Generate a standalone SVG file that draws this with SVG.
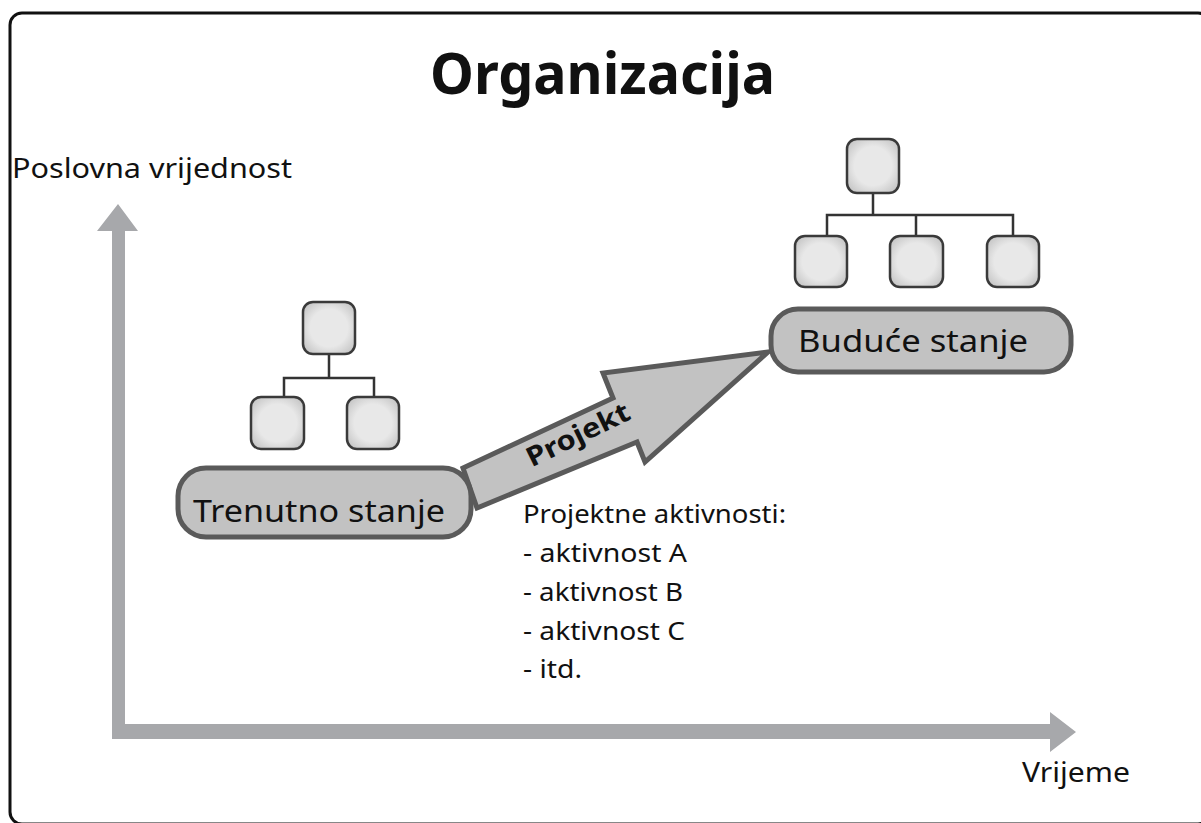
<svg xmlns="http://www.w3.org/2000/svg" width="1201" height="823" viewBox="0 0 1201 823">
<defs>
<style>
.t{font-family:"Noto Sans","Open Sans","DejaVu Sans",sans-serif;fill:#111}
.ob{fill:url(#bg);stroke:#3a3a3a;stroke-width:2.5}
.ln{stroke:#333;stroke-width:2.5;fill:none}
.st{fill:#c2c2c2;stroke:#5a5a5a;stroke-width:5}
.ax{fill:#a7a8ab}
</style>
<radialGradient id="bg" cx="50%" cy="50%" r="60%">
<stop offset="0.6" stop-color="#e8e8e8"/>
<stop offset="1" stop-color="#c8c8c8"/>
</radialGradient>
</defs>
<rect x="0" y="0" width="1201" height="823" fill="#fff"/>
<rect x="10" y="13" width="1200" height="811" rx="12" fill="none" stroke="#111" stroke-width="3"/>
<text class="t" x="430" y="94" font-size="58" font-weight="bold" textLength="345" lengthAdjust="spacingAndGlyphs">Organizacija</text>
<g id="axes">
<path class="ax" d="M112,739 L112,231 L97,231 L118,204 L138,231 L125,231 L125,724 L1050,724 L1050,712 L1076,732 L1050,752 L1050,739 Z"/>
<text class="t" x="12" y="178" font-size="27" textLength="280" lengthAdjust="spacingAndGlyphs">Poslovna vrijednost</text>
<text class="t" x="1022" y="782" font-size="27" textLength="108" lengthAdjust="spacingAndGlyphs">Vrijeme</text>
</g>
<g id="connectors">
<g id="org-left-lines">
<path class="ln" d="M329,354 V378 M284,397 V378 H374 V397"/>
</g>
<g id="org-right-lines">
<path class="ln" d="M873,193 V215 M827,236 V215 H1013 V236 M916,215 V236"/>
</g>
<g id="projekt">
<path class="st" stroke-linejoin="miter" d="M463,468 L613,398 L603,373 L768,352 L645,462 L637,442 L477,508 Z"/>
<text transform="translate(582,443) rotate(-26)" class="t" text-anchor="middle" font-size="27" font-weight="bold" textLength="112" lengthAdjust="spacingAndGlyphs">Projekt</text>
</g>
</g>
<g id="org-left">
<rect class="ob" x="303" y="302" width="52" height="52" rx="10"/>
<rect class="ob" x="251" y="397" width="53" height="52" rx="10"/>
<rect class="ob" x="347" y="397" width="52" height="52" rx="10"/>
</g>
<g id="org-right">
<rect class="ob" x="847" y="139" width="52" height="54" rx="10"/>
<rect class="ob" x="795" y="236" width="52" height="51" rx="10"/>
<rect class="ob" x="890" y="236" width="53" height="51" rx="10"/>
<rect class="ob" x="987" y="236" width="52" height="51" rx="10"/>
</g>
<g id="trenutno">
<rect class="st" x="178" y="468" width="293" height="69" rx="28"/>
<text class="t" x="193" y="522" font-size="31" textLength="252" lengthAdjust="spacingAndGlyphs">Trenutno stanje</text>
</g>
<g id="buduce">
<rect class="st" x="771" y="309" width="300" height="63" rx="27"/>
<text class="t" x="798" y="352" font-size="31" textLength="230" lengthAdjust="spacingAndGlyphs">Buduće stanje</text>
</g>
<g id="aktivnosti">
<text class="t" x="523" y="523" font-size="26" textLength="263" lengthAdjust="spacingAndGlyphs">Projektne aktivnosti:</text>
<text class="t" x="523" y="562" font-size="26" textLength="164" lengthAdjust="spacingAndGlyphs">- aktivnost A</text>
<text class="t" x="523" y="601" font-size="26" textLength="160" lengthAdjust="spacingAndGlyphs">- aktivnost B</text>
<text class="t" x="523" y="640" font-size="26" textLength="162" lengthAdjust="spacingAndGlyphs">- aktivnost C</text>
<text class="t" x="523" y="678" font-size="26" textLength="59" lengthAdjust="spacingAndGlyphs">- itd.</text>
</g>
</svg>
